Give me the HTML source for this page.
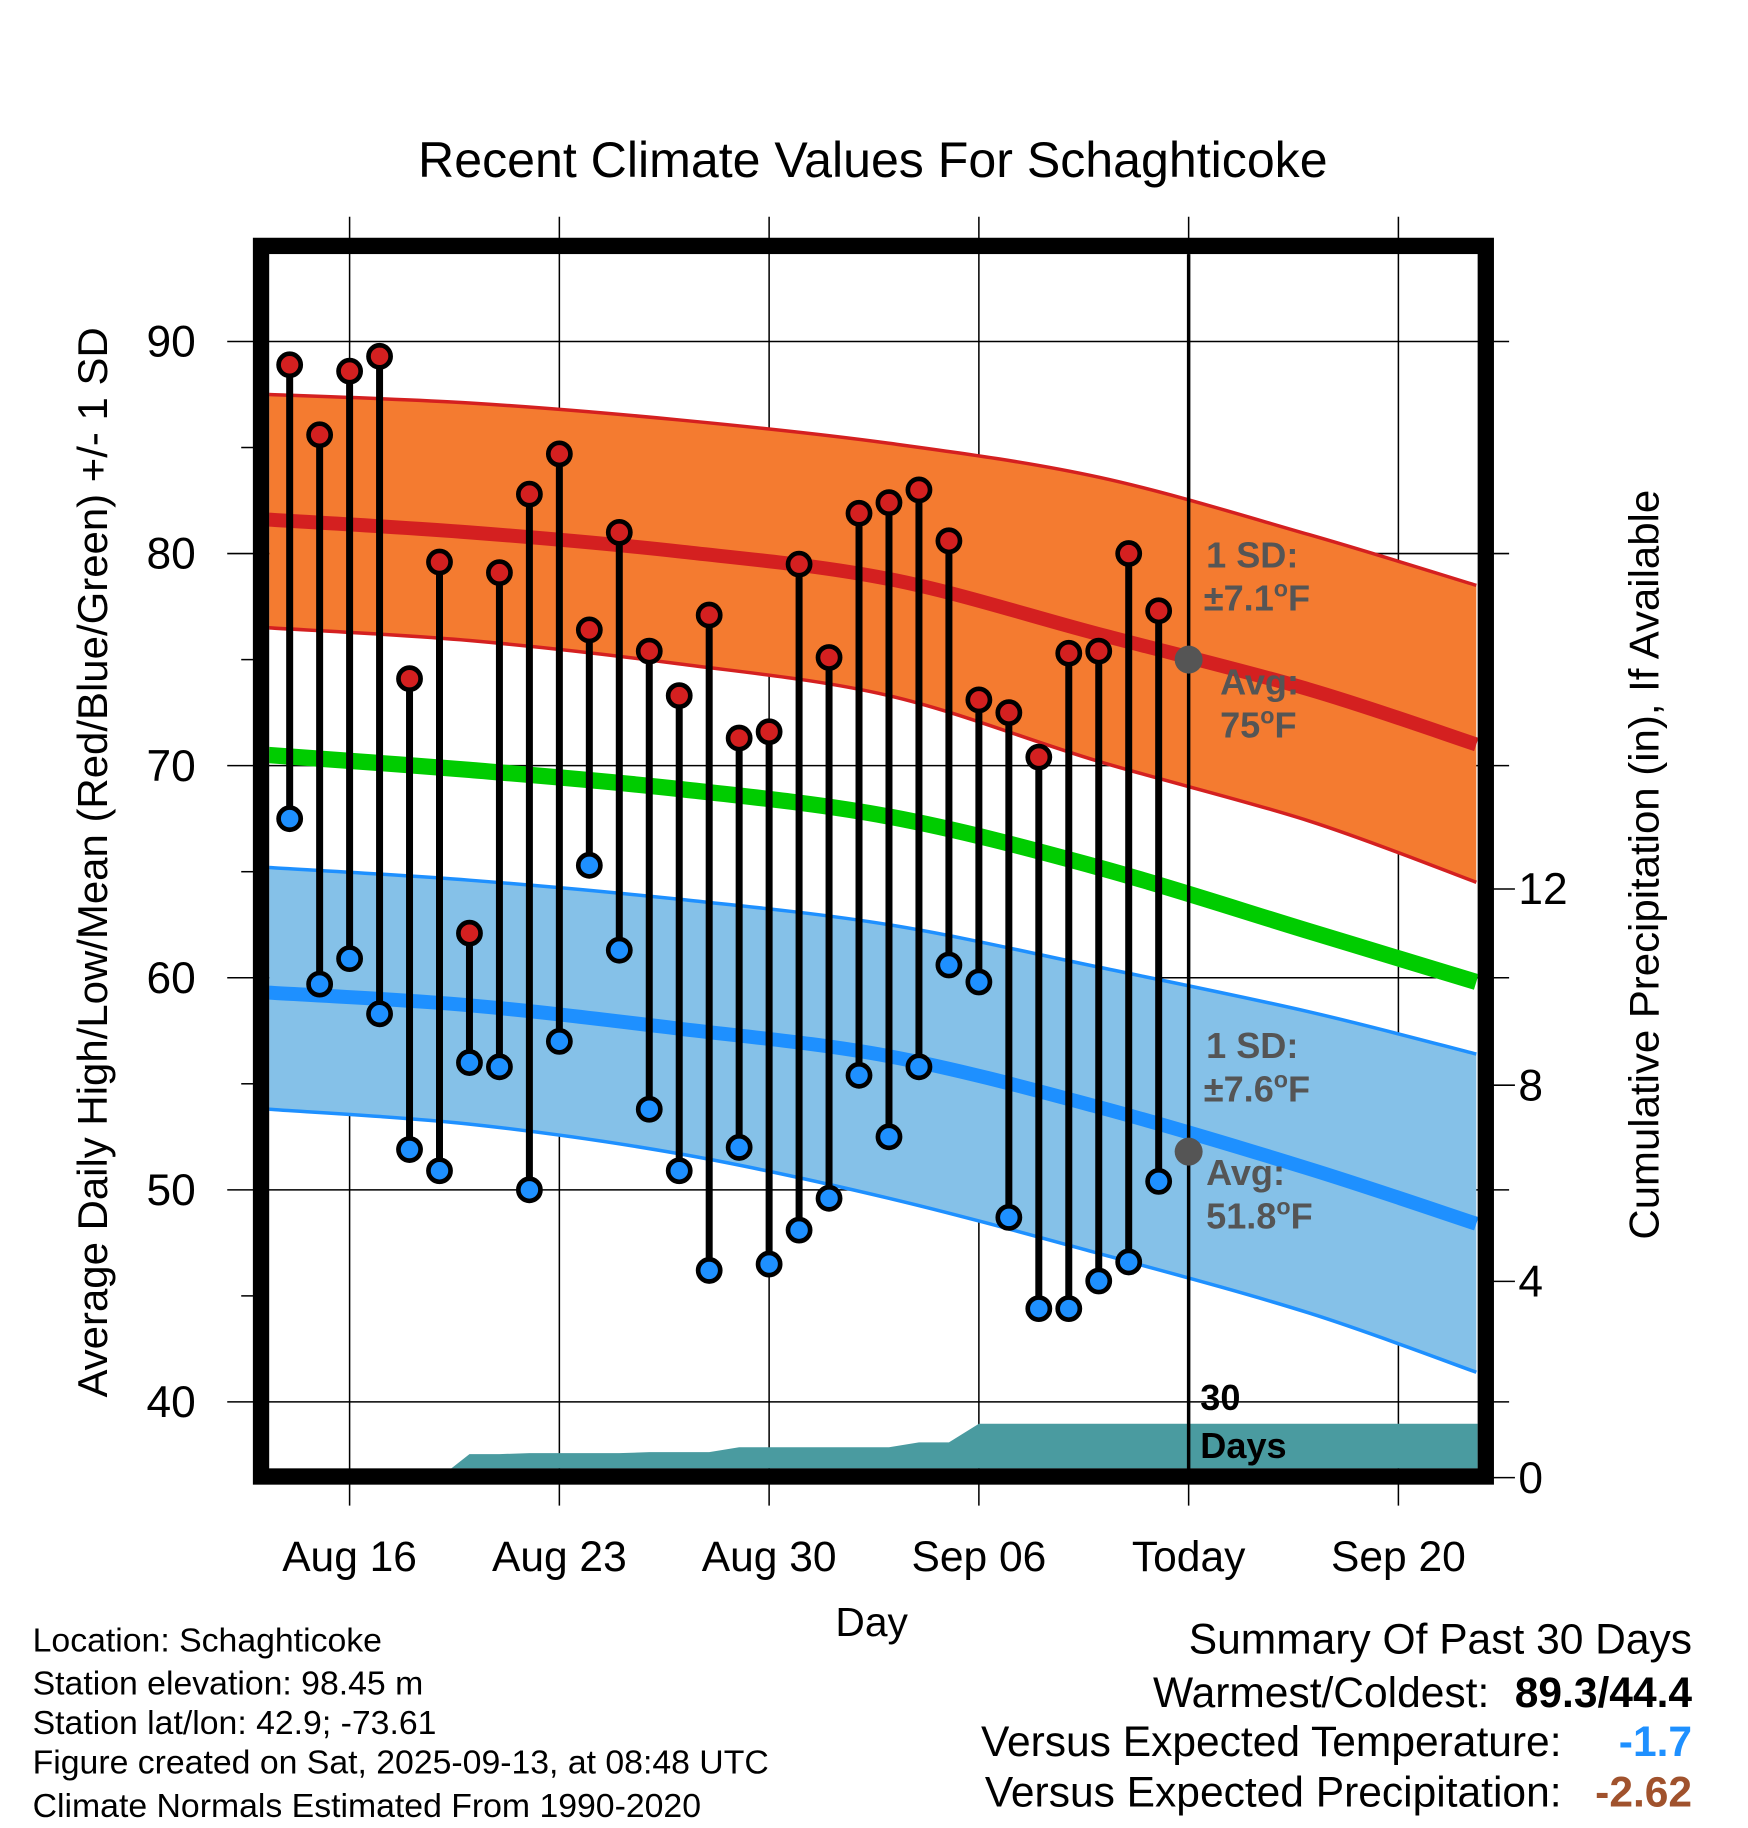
<!DOCTYPE html>
<html><head><meta charset="utf-8"><style>
html,body{margin:0;padding:0;background:#fff;}
svg{display:block;font-family:"Liberation Sans",Arial,sans-serif;}
</style></head><body>
<svg id="chart" width="1748" height="1828" viewBox="0 0 1500 1568.6" xmlns="http://www.w3.org/2000/svg">
<defs><clipPath id="plotClip"><rect x="231" y="218" width="1037" height="1042"/></clipPath></defs>
<rect x="0" y="0" width="1500" height="1569" fill="#fff"/>
<text x="749" y="152" font-size="43" text-anchor="middle">Recent Climate Values For Schaghticoke</text>
<g id="grid"></g>
<g id="plot" clip-path="url(#plotClip)"></g>
<g id="marks"></g>
<rect x="224" y="211" width="1051" height="1056" fill="none" stroke="#000" stroke-width="14"/>
<g id="axes"></g>
<text transform="translate(92,740) rotate(-90)" font-size="36" text-anchor="middle">Average Daily High/Low/Mean (Red/Blue/Green) +/- 1 SD</text>
<text transform="translate(1423,742) rotate(-90)" font-size="36" text-anchor="middle">Cumulative Precipitation (in), If Available</text>
<text x="748" y="1404" font-size="35" text-anchor="middle">Day</text>
<g font-size="29">
<text x="28" y="1417">Location: Schaghticoke</text>
<text x="28" y="1454">Station elevation: 98.45 m</text>
<text x="28" y="1488">Station lat/lon: 42.9; -73.61</text>
<text x="28" y="1522">Figure created on Sat, 2025-09-13, at 08:48 UTC</text>
<text x="28" y="1559">Climate Normals Estimated From 1990-2020</text>
</g>
<g font-size="36.5">
<text x="1452" y="1419" text-anchor="end">Summary Of Past 30 Days</text>
<text x="1278" y="1465" text-anchor="end">Warmest/Coldest:</text>
<text x="1452" y="1465" text-anchor="end" font-weight="bold">89.3/44.4</text>
<text x="1340" y="1507" text-anchor="end">Versus Expected Temperature:</text>
<text x="1452" y="1507" text-anchor="end" font-weight="bold" fill="#1e90ff">-1.7</text>
<text x="1340" y="1550" text-anchor="end">Versus Expected Precipitation:</text>
<text x="1452" y="1550" text-anchor="end" font-weight="bold" fill="#a0522d">-2.62</text>
</g>
</svg>
<script>
const obsDays=[-2,-1,0,1,2,3,4,5,6,7,8,9,10,11,12,13,14,15,16,17,18,19,20,21,22,23,24,25,26,27];
const highs=[88.9,85.6,88.6,89.3,74.1,79.6,62.1,79.1,82.8,84.7,76.4,81.0,75.4,73.3,77.1,71.3,71.6,79.5,75.1,81.9,82.4,83.0,80.6,73.1,72.5,70.4,75.3,75.4,80.0,77.3];
const lows=[67.5,59.7,60.9,58.3,51.9,50.9,56.0,55.8,50.0,57.0,65.3,61.3,53.8,50.9,46.2,52.0,46.5,48.1,49.6,55.4,52.5,55.8,60.6,59.8,48.7,44.4,44.4,45.7,46.6,50.4];
const normDays=[-2.7,4,11,18,25,32,37.6];
const hiUpper=[87.5,87.1,86.3,85.2,83.6,80.9,78.5];
const hiMean=[81.6,81.0,80.1,78.8,76.2,73.6,71.0];
const hiLower=[76.5,75.9,74.8,73.3,70.2,67.4,64.5];
const avgMean=[70.5,69.8,68.9,67.6,65.2,62.2,59.8];
const loUpper=[65.2,64.6,63.7,62.5,60.5,58.4,56.4];
const loMean=[59.3,58.7,57.6,56.3,53.9,51.0,48.4];
const loLower=[53.8,53.1,51.7,49.6,47.0,44.2,41.4];
const precipDays=[-2,-1,0,1,2,3,4,5,6,7,8,9,10,11,12,13,14,15,16,17,18,19,20,21,22,23,24,25,26,27,28,38];
const precipCum=[0,0,0,0,0,0,0.48,0.48,0.5,0.5,0.5,0.5,0.52,0.52,0.52,0.62,0.62,0.62,0.62,0.62,0.62,0.72,0.72,1.1,1.1,1.1,1.1,1.1,1.1,1.1,1.1,1.1];
const xTickDays=[0,7,14,21,28,35];
const xTickLabels=["Aug 16","Aug 23","Aug 30","Sep 06","Today","Sep 20"];
const yTicks=[40,50,60,70,80,90];
const y2Ticks=[0,4,8,12];
const todayDay=28, todayHi=75, todayLo=51.8;

const NS="http://www.w3.org/2000/svg";
const X=d=>300+d*180/7;
const Y=v=>293+(90-v)*18.2;
const Y2=p=>1268-p*42.1;
function mk(parent,tag,attrs,text){const e=document.createElementNS(NS,tag);for(const k in attrs)e.setAttribute(k,attrs[k]);if(text!==undefined)e.textContent=text;document.getElementById(parent).appendChild(e);return e;}
function smoothPts(days,vals){
  const p=days.map((d,i)=>[X(d),Y(vals[i])]);
  let s='';
  for(let i=0;i<p.length-1;i++){
    const p0=p[Math.max(0,i-1)],p1=p[i],p2=p[i+1],p3=p[Math.min(p.length-1,i+2)];
    const c1=[p1[0]+(p2[0]-p0[0])/6,p1[1]+(p2[1]-p0[1])/6];
    const c2=[p2[0]-(p3[0]-p1[0])/6,p2[1]-(p3[1]-p1[1])/6];
    s+=' C'+c1[0]+','+c1[1]+' '+c2[0]+','+c2[1]+' '+p2[0]+','+p2[1];
  }
  return {start:p[0],seg:s};
}
function line(days,vals){const r=smoothPts(days,vals);return 'M'+r.start[0]+','+r.start[1]+r.seg;}
function band(days,up,lo){
  const a=smoothPts(days,up);
  const rd=days.slice().reverse(),rl=lo.slice().reverse();
  const b=smoothPts(rd,rl);
  return 'M'+a.start[0]+','+a.start[1]+a.seg+' L'+b.start[0]+','+b.start[1]+b.seg+' Z';
}

let e;
yTicks.forEach(v=>{e=mk('grid','line',{x1:195,x2:1295,y1:Y(v),y2:Y(v),stroke:'#000','stroke-width':1.3});

});
xTickDays.forEach(d=>{e=mk('grid','line',{x1:X(d),x2:X(d),y1:186,y2:1292,stroke:'#000','stroke-width':1.3});

});

e=mk('plot','path',{d:band(normDays,hiUpper,hiLower),fill:'#f47b30',stroke:'none'});


e=mk('plot','path',{d:band(normDays,loUpper,loLower),fill:'#85c1e8',stroke:'none'});


[[hiUpper,'#d42020',3,'high-sd-upper'],[hiLower,'#d42020',3,'high-sd-lower'],[hiMean,'#d42020',12,'normal-high-line'],[avgMean,'#00cc00',14,'normal-mean-line'],[loUpper,'#1e90ff',3,'low-sd-upper'],[loLower,'#1e90ff',3,'low-sd-lower'],[loMean,'#1e90ff',12,'normal-low-line']].forEach(([v,c,w,n])=>{
e=mk('plot','path',{d:line(normDays,v),fill:'none',stroke:c,'stroke-width':w});

});
let pp='M'+X(precipDays[0])+','+Y2(0);
precipDays.forEach((d,i)=>{pp+=' L'+X(d)+','+Y2(precipCum[i]);});
pp+=' L'+X(precipDays[precipDays.length-1])+','+Y2(0)+' Z';
e=mk('plot','path',{d:pp,fill:'#4a9ba0'});



e=mk('marks','line',{x1:X(todayDay),x2:X(todayDay),y1:218,y2:1262,stroke:'#000','stroke-width':3});



obsDays.forEach((d,i)=>{
const s=mk('marks','line',{x1:X(d),x2:X(d),y1:Y(highs[i]),y2:Y(lows[i]),stroke:'#000','stroke-width':6});


const h=mk('marks','circle',{cx:X(d),cy:Y(highs[i]),r:9.5,fill:'#d42020',stroke:'#000','stroke-width':4});


const l=mk('marks','circle',{cx:X(d),cy:Y(lows[i]),r:9.5,fill:'#1e90ff',stroke:'#000','stroke-width':4});


});
e=mk('marks','circle',{cx:X(todayDay),cy:Y(todayHi),r:12,fill:'#555'});


e=mk('marks','circle',{cx:X(todayDay),cy:Y(todayLo),r:12,fill:'#555'});



function ann(x,y,pre,post,n){
  const t=mk('marks','text',{x:x,y:y,'font-size':31,'font-weight':'bold',fill:'#555'});
  
  
  t.appendChild(document.createTextNode(pre));
  if(post!==null){
    const o=document.createElementNS(NS,'tspan');o.setAttribute('dy','-12');o.setAttribute('font-size','20');o.textContent='o';t.appendChild(o);
    const f=document.createElementNS(NS,'tspan');f.setAttribute('dy','12');f.textContent=post;t.appendChild(f);
  }
}
ann(1035,487,'1 SD:',null,'high-sd-label');
ann(1033,524,'±7.1','F','high-sd-value');
ann(1047,596,'Avg:',null,'high-avg-label');
ann(1047,633,'75','F','high-avg-value');
ann(1035,908,'1 SD:',null,'low-sd-label');
ann(1033,945,'±7.6','F','low-sd-value');
ann(1035,1017,'Avg:',null,'low-avg-label');
ann(1035,1054,'51.8','F','low-avg-value');
e=mk('marks','text',{x:1030,y:1210,'font-size':31,'font-weight':'bold'},'30');


e=mk('marks','text',{x:1030,y:1251,'font-size':31,'font-weight':'bold'},'Days');



yTicks.forEach(v=>{e=mk('axes','text',{x:168,y:Y(v)+13,'font-size':38,'text-anchor':'end'},String(v));

});
[45,55,65,75,85].forEach(v=>{e=mk('axes','line',{x1:207,x2:218,y1:Y(v),y2:Y(v),stroke:'#000','stroke-width':1.3});

});
y2Ticks.forEach(p=>{e=mk('axes','line',{x1:1281,x2:1300,y1:Y2(p),y2:Y2(p),stroke:'#000','stroke-width':1.3});


e=mk('axes','text',{x:1303,y:Y2(p)+13,'font-size':38},String(p));

});
xTickDays.forEach((d,i)=>{e=mk('axes','text',{x:X(d),y:1348,'font-size':36.5,'text-anchor':'middle'},xTickLabels[i]);

});
</script>
</body></html>
